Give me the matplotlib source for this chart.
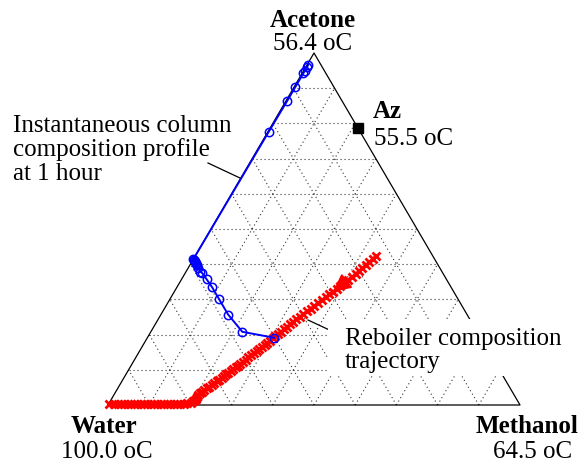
import numpy as np
import matplotlib
matplotlib.use("Agg")
import matplotlib.pyplot as plt
from matplotlib.patches import Rectangle

plt.rcParams['font.family'] = ['Liberation Serif', 'DejaVu Serif']

W, H = 583, 466

# column composition profile at 1 hour (acetone, methanol mole fractions)
col_acetone = [0.966, 0.960, 0.950, 0.942, 0.902, 0.864, 0.776,
               0.415, 0.413, 0.411, 0.409, 0.407, 0.404, 0.401, 0.398,
               0.389, 0.379, 0.375, 0.357, 0.334, 0.301, 0.257, 0.208, 0.191]
col_methanol = [0.003, 0.003, 0.003, 0.003, 0.003, 0.003, 0.002,
                0.000, 0.002, 0.004, 0.006, 0.008, 0.011, 0.013, 0.016,
                0.025, 0.035, 0.041, 0.061, 0.086, 0.119, 0.163, 0.222, 0.308]

# reboiler composition trajectory
reb_acetone = [0.423, 0.414, 0.406, 0.398, 0.389, 0.381, 0.372, 0.364, 0.355, 0.347,
               0.338, 0.330, 0.322, 0.314, 0.306, 0.298, 0.290, 0.282, 0.274, 0.266,
               0.258, 0.250, 0.243, 0.236, 0.229, 0.222, 0.215, 0.208, 0.201, 0.195,
               0.189, 0.183, 0.177, 0.171, 0.165, 0.159, 0.153, 0.147, 0.141, 0.135,
               0.129, 0.123, 0.117, 0.112, 0.107, 0.102, 0.097, 0.092, 0.087, 0.082,
               0.077, 0.072, 0.067, 0.062, 0.057, 0.052, 0.047, 0.042, 0.037, 0.033,
               0.028, 0.023, 0.018, 0.014, 0.010, 0.007, 0.005, 0.004,
               0.003, 0.003, 0.003, 0.003, 0.003, 0.003, 0.003, 0.003, 0.003, 0.003,
               0.003, 0.003, 0.003, 0.003, 0.003, 0.003, 0.003, 0.003, 0.003, 0.003,
               0.003, 0.003]
reb_methanol = [0.438, 0.435, 0.431, 0.427, 0.423, 0.419, 0.415, 0.410, 0.405, 0.400,
                0.395, 0.390, 0.385, 0.380, 0.375, 0.370, 0.365, 0.360, 0.355, 0.350,
                0.345, 0.340, 0.336, 0.332, 0.328, 0.324, 0.320, 0.316, 0.312, 0.309,
                0.306, 0.302, 0.298, 0.295, 0.291, 0.288, 0.284, 0.281, 0.277, 0.273,
                0.270, 0.266, 0.262, 0.259, 0.256, 0.253, 0.250, 0.246, 0.243, 0.240,
                0.237, 0.233, 0.230, 0.227, 0.223, 0.220, 0.216, 0.213, 0.210, 0.207,
                0.205, 0.204, 0.204, 0.204, 0.202, 0.197, 0.190, 0.182,
                0.174, 0.166, 0.158, 0.150, 0.142, 0.134, 0.126, 0.118, 0.110, 0.102,
                0.094, 0.086, 0.078, 0.070, 0.062, 0.054, 0.046, 0.038, 0.030, 0.022,
                0.012, 0.000]

az_acetone, az_methanol = 0.786, 0.214

vertex_names = ['Water', 'Methanol', 'Acetone']
vertex_temps = ['100.0 oC', '64.5 oC', '56.4 oC']
az_temp = '55.5 oC'


def to_xy(acetone, methanol):
    acetone = np.asarray(acetone, float)
    methanol = np.asarray(methanol, float)
    return methanol + 0.5 * acetone, acetone * np.sqrt(3) / 2


def px(x, y):
    return x / W, 1 - y / H


fig = plt.figure(figsize=(W / 100, H / 100), dpi=100)
ax = fig.add_axes([0, 0, 1, 1])
ax.set_xlim(-108 / 412, 475 / 412)
ax.set_ylim(-61 / 352 * np.sqrt(3) / 2, 405 / 352 * np.sqrt(3) / 2)
ax.axis('off')

# dotted grid every 0.1
grid_kw = dict(color='0.2', lw=0.8, ls=(0, (1, 2.6)), zorder=1)
for f in np.arange(1, 10) / 10:
    ax.plot(*to_xy([f, f], [0, 1 - f]), **grid_kw)
    ax.plot(*to_xy([0, 1 - f], [f, f]), **grid_kw)
    ax.plot(*to_xy([0, 1 - f], [1 - f, 0]), **grid_kw)

# triangle outline
ax.plot(*to_xy([0, 0, 1, 0], [0, 1, 0, 0]), color='k', lw=0.9, zorder=2)

# white backing for the reboiler label
fig.add_artist(Rectangle(px(328, 376), 240 / W, 57 / H, transform=fig.transFigure,
                         facecolor='white', edgecolor='none', zorder=2.5))

rx, ry = to_xy(reb_acetone, reb_methanol)
ax.plot(rx, ry, color='red', lw=2.0, marker='x', ms=6, mew=2.0, zorder=3)
ax.annotate('', xy=(rx[12], ry[12]), xytext=(rx[6], ry[6]),
            arrowprops=dict(arrowstyle='-|>,head_length=1.1,head_width=0.55',
                            mutation_scale=10, color='red', lw=1.2,
                            shrinkA=0, shrinkB=0), zorder=4)

cx, cy = to_xy(col_acetone, col_methanol)
ax.plot(cx, cy, color='blue', lw=1.4, marker='o', ms=6, mfc='none', mew=1.1, zorder=5)

ax.plot(*to_xy([az_acetone], [az_methanol]), marker='s', color='k', ms=7, zorder=6)

fs = 18
bold = dict(fontsize=fs, fontweight='bold', va='baseline')
norm = dict(fontsize=fs, va='baseline')
fig.text(*px(313, 27), vertex_names[2], ha='center', **bold)
fig.text(*px(313, 50), vertex_temps[2], ha='center', **norm)
fig.text(*px(373, 118), 'Az', ha='left', **bold)
fig.text(*px(374, 145), az_temp, ha='left', **norm)
fig.text(*px(104, 433), vertex_names[0], ha='center', **bold)
fig.text(*px(107, 458), vertex_temps[0], ha='center', **norm)
fig.text(*px(527, 433), vertex_names[1], ha='center', **bold)
fig.text(*px(533, 458), vertex_temps[1], ha='center', **norm)

for i, line in enumerate(['Instantaneous column', 'composition profile', 'at 1 hour']):
    fig.text(*px(13, 132 + 24 * i), line, ha='left', **norm)
for i, line in enumerate(['Reboiler composition', 'trajectory']):
    fig.text(*px(345, 345 + 23 * i), line, ha='left', zorder=6, **norm)

# leader lines
lead = dict(color='k', lw=0.9)
fig.add_artist(plt.Line2D(*zip(px(208, 163), px(240, 178)), transform=fig.transFigure, **lead))
fig.add_artist(plt.Line2D(*zip(px(308, 320), px(338, 334)), transform=fig.transFigure, **lead))

fig.savefig('out.png', dpi=100)
